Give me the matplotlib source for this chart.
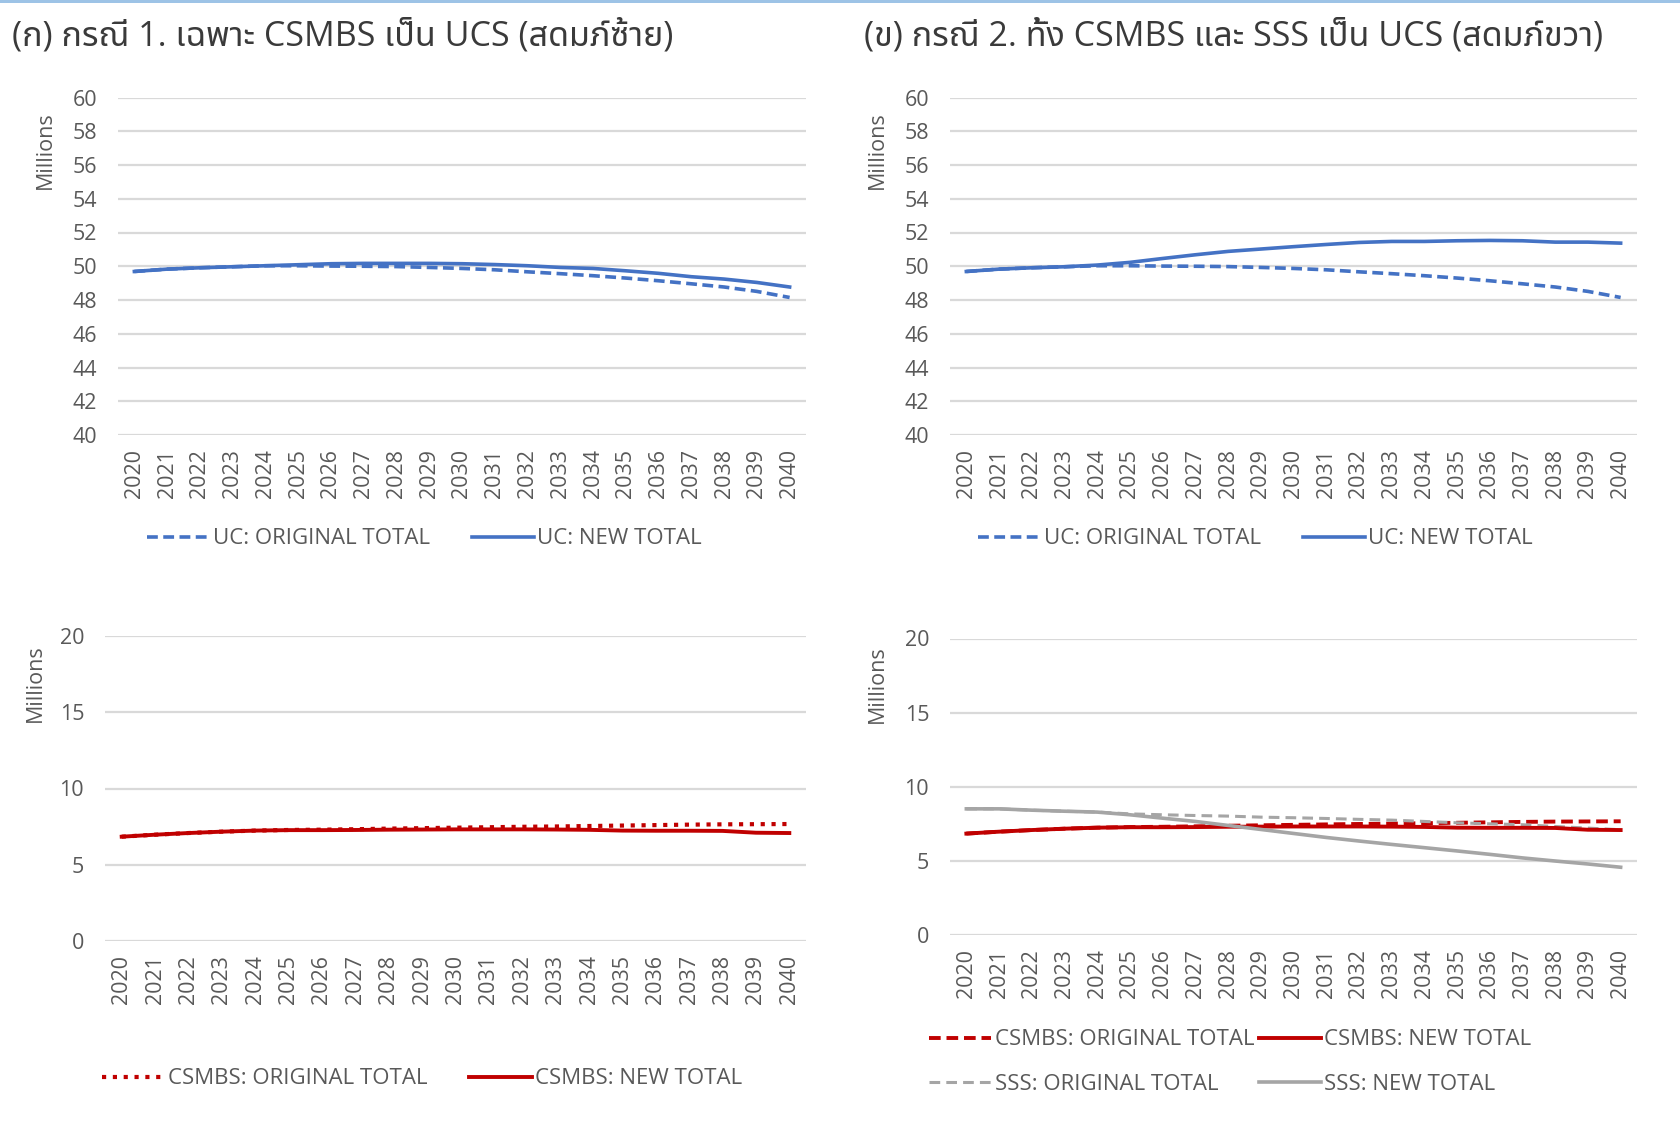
import matplotlib
matplotlib.use("Agg")
import matplotlib.pyplot as plt
from matplotlib.patches import Rectangle

plt.rcParams['font.family'] = ['Open Sans', 'Noto Sans Thai', 'DejaVu Sans']

years = [str(y) for y in range(2020, 2041)]

# UC, millions
uc_original = [49.69, 49.83, 49.91, 49.97, 50.03, 50.03, 50.01, 50.00, 49.98, 49.93, 49.87,
               49.79, 49.67, 49.56, 49.44, 49.30, 49.14, 48.96, 48.77, 48.51, 48.15]
uc_new_case1 = [49.69, 49.83, 49.91, 49.97, 50.03, 50.09, 50.15, 50.17, 50.17, 50.17, 50.15,
                50.10, 50.03, 49.93, 49.87, 49.73, 49.58, 49.38, 49.24, 49.04, 48.77]
uc_new_case2 = [49.69, 49.83, 49.91, 49.97, 50.07, 50.23, 50.46, 50.68, 50.88, 51.02, 51.16,
                51.29, 51.41, 51.47, 51.47, 51.51, 51.53, 51.51, 51.43, 51.43, 51.37]

# CSMBS / SSS, millions
csmbs_original = [6.84, 6.97, 7.08, 7.17, 7.24, 7.28, 7.30, 7.33, 7.37, 7.40, 7.43,
                  7.46, 7.49, 7.51, 7.54, 7.57, 7.60, 7.63, 7.65, 7.66, 7.67]
csmbs_new = [6.84, 6.97, 7.08, 7.17, 7.24, 7.27, 7.27, 7.28, 7.30, 7.31, 7.32,
             7.32, 7.32, 7.31, 7.29, 7.24, 7.23, 7.23, 7.22, 7.10, 7.08]
sss_original = [8.51, 8.51, 8.42, 8.35, 8.29, 8.17, 8.11, 8.06, 8.02, 7.95, 7.91,
                7.86, 7.80, 7.75, 7.66, 7.57, 7.50, 7.44, 7.32, 7.21, 7.10]
sss_new = [8.51, 8.51, 8.42, 8.35, 8.29, 8.11, 7.88, 7.66, 7.39, 7.12, 6.85,
           6.58, 6.34, 6.11, 5.89, 5.67, 5.44, 5.20, 4.99, 4.79, 4.57]

title_left = "(ก) กรณี 1. เฉพาะ CSMBS เป็น UCS (สดมภ์ซ้าย)"
title_right = "(ข) กรณี 2. ทั้ง CSMBS และ SSS เป็น UCS (สดมภ์ขวา)"

BLUE = "#4472C4"
RED = "#C00000"
GRAY = "#A5A5A5"
GRID = "#D9D9D9"
TXT = "#595959"

fig = plt.figure(figsize=(16.8, 11.21), dpi=100)
fig.add_artist(Rectangle((0, 1 - 3 / 1121), 1, 3 / 1121, transform=fig.transFigure,
                         color="#9DC3E6", lw=0))

fig.text(12 / 1680, 1 - 36 / 1121, title_left, fontsize=24.5, color="#3a3a3a", va="center")
fig.text(864 / 1680, 1 - 36 / 1121, title_right, fontsize=24.5, color="#3a3a3a", va="center")


def style_axes(ax, ticks, label_x):
    ax.set_xlim(-0.5, len(years) - 0.5)
    ax.set_ylim(ticks[0], ticks[-1])
    ax.set_yticks(ticks)
    ax.set_xticks(range(len(years)))
    ax.set_xticklabels(years, rotation=90)
    ax.tick_params(axis="y", length=0, pad=15, labelsize=15.5, labelcolor=TXT)
    ax.tick_params(axis="x", length=0, pad=10, labelsize=15.5, labelcolor=TXT)
    for s in ax.spines.values():
        s.set_visible(False)
    ax.grid(axis="y", color=GRID, lw=1.6)
    ax.set_axisbelow(True)
    ax.text(label_x, 0.845, "Millions", transform=ax.transAxes, rotation=90,
            ha="center", va="center", fontsize=15.5, color=TXT)


def add_legend(ax, x, y, ncol, colsp=1.9):
    ax.legend(loc="center left", bbox_to_anchor=(x, y), bbox_transform=fig.transFigure,
              ncol=ncol, frameon=False, fontsize=16, handlelength=2.8, handletextpad=0.15,
              columnspacing=colsp, borderpad=0, borderaxespad=0, labelspacing=1.05,
              labelcolor=TXT)


x = range(len(years))

# top left
ax1 = fig.add_axes([118 / 1680, 1 - 435 / 1121, 688 / 1680, 337.5 / 1121])
ax1.plot(x, uc_original, color=BLUE, lw=2.6, dashes=(3.0, 1.5), label="UC: ORIGINAL TOTAL")
ax1.plot(x, uc_new_case1, color=BLUE, lw=2.6, label="UC: NEW TOTAL")
style_axes(ax1, list(range(40, 61, 2)), -0.105)
add_legend(ax1, 147 / 1680, 1 - 539 / 1121, 2)

# top right
ax2 = fig.add_axes([950 / 1680, 1 - 435 / 1121, 687 / 1680, 337.5 / 1121])
ax2.plot(x, uc_original, color=BLUE, lw=2.6, dashes=(3.0, 1.5), label="UC: ORIGINAL TOTAL")
ax2.plot(x, uc_new_case2, color=BLUE, lw=2.6, label="UC: NEW TOTAL")
style_axes(ax2, list(range(40, 61, 2)), -0.105)
add_legend(ax2, 978 / 1680, 1 - 539 / 1121, 2)

# bottom left
ax3 = fig.add_axes([105 / 1680, 1 - 941 / 1121, 701 / 1680, 305 / 1121])
ax3.plot(x, csmbs_original, color=RED, lw=3.0, dashes=(1, 1.6), label="CSMBS: ORIGINAL TOTAL")
ax3.plot(x, csmbs_new, color=RED, lw=2.8, label="CSMBS: NEW TOTAL")
style_axes(ax3, [0, 5, 10, 15, 20], -0.1)
add_legend(ax3, 102 / 1680, 1 - 1079 / 1121, 2)

# bottom right
ax4 = fig.add_axes([950 / 1680, 1 - 935 / 1121, 687 / 1680, 296.5 / 1121])
ax4.plot(x, csmbs_original, color=RED, lw=2.8, dashes=(3.0, 1.5), label="CSMBS: ORIGINAL TOTAL")
ax4.plot(x, sss_original, color=GRAY, lw=2.2, dashes=(3.5, 2.0), label="SSS: ORIGINAL TOTAL")
ax4.plot(x, csmbs_new, color=RED, lw=2.8, label="CSMBS: NEW TOTAL")
ax4.plot(x, sss_new, color=GRAY, lw=2.6, label="SSS: NEW TOTAL")
style_axes(ax4, [0, 5, 10, 15, 20], -0.105)
add_legend(ax4, 929 / 1680, 1 - 1062 / 1121, 2, colsp=0.2)

fig.savefig("out.png", dpi=100)
